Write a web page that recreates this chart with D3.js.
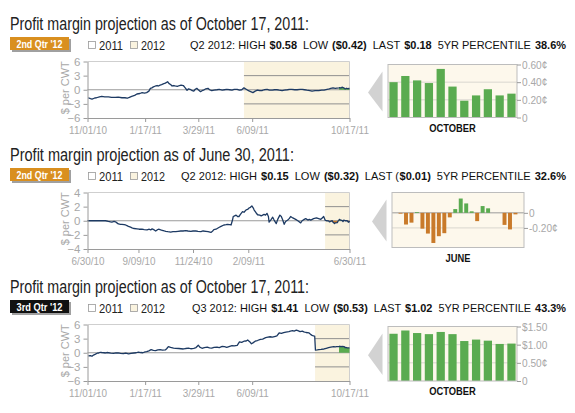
<!DOCTYPE html>
<html><head><meta charset="utf-8">
<script src="https://cdn.jsdelivr.net/npm/d3@7/dist/d3.min.js"></script>
<style>
body{margin:0;background:#fff;}
svg{display:block;font-family:"Liberation Sans",Arial,sans-serif;}
</style></head><body>
<svg id="c" width="575" height="413"></svg>
<script>
// ---------------- DATA ----------------
const titles = ["Profit margin projection as of October 17, 2011:",
                "Profit margin projection as of June 30, 2011:",
                "Profit margin projection as of October 17, 2011:"];
const badgeLabels = ["2nd Qtr '12", "2nd Qtr '12", "3rd Qtr '12"];
const legendLabels = ["2011", "2012"];
const stats1 = [["Q2 2012: HIGH",0],["$0.58",1],["LOW",0],["($0.42)",1],["LAST",0],["$0.18",1],["5YR PERCENTILE",0],["38.6%",1]];
const stats2 = [["Q2 2012: HIGH",0],["$0.15",1],["LOW",0],["($0.32)",1],["LAST (",0],["$0.01)",1],["5YR PERCENTILE",0],["32.6%",1]];
const stats3 = [["Q3 2012: HIGH",0],["$1.41",1],["LOW",0],["($0.53)",1],["LAST",0],["$1.02",1],["5YR PERCENTILE",0],["43.3%",1]];

const xRange1 = ["2010-11-01", "2011-10-17"];
const xRange2 = ["2010-06-30", "2011-06-30"];
const xTicks1 = ["2010-11-01", "2011-01-17", "2011-03-29", "2011-06-09", "2011-10-17"];
const xTicks2 = ["2010-06-30", "2010-09-09", "2010-11-24", "2011-02-09", "2011-06-30"];
const yTicks1 = [-6, -3, 0, 3, 6];
const yTicks2 = [-4, -2, 0, 2, 4];
const shadeStarts = ["2011-05-29", "2011-05-27", "2011-09-01"];

// [days since series start, $ per CWT]
const line1 = [[1,-1.7],[4,-1.9],[6,-2.0],[9,-1.8],[12,-1.7],[16,-1.5],[19,-1.4],[23,-1.5],[28,-1.5],[32,-1.6],[37,-1.6],[41,-1.55],[46,-1.7],[50,-1.7],[53,-1.8],[56,-1.6],[59,-1.4],[63,-1.2],[66,-0.9],[70,-0.8],[73,-0.6],[76,-0.7],[79,-0.6],[82,-0.3],[84,0.3],[86,0.4],[88,0.6],[91,0.8],[93,0.9],[95,0.8],[97,1.0],[99,1.1],[102,1.3],[104,1.4],[107,1.7],[109,1.3],[111,1.1],[113,0.8],[115,0.9],[117,0.8],[120,0.7],[123,0.9],[125,1.0],[128,0.9],[130,0.5],[133,-0.1],[135,0.2],[137,0.1],[140,-0.2],[142,-0.3],[144,0.1],[146,0.3],[148,0.0],[151,-0.4],[153,-0.2],[155,-0.1],[158,0.2],[161,0.3],[163,0.0],[166,-0.2],[169,-0.1],[173,0.0],[176,0.1],[180,-0.1],[183,0.0],[186,0.1],[190,0.0],[193,-0.1],[196,0.1],[200,0.1],[203,-0.1],[206,0.0],[209,0.4],[212,0.1],[215,-0.2],[218,-0.4],[221,-0.6],[224,-0.3],[227,-0.1],[230,-0.2],[233,-0.2],[236,0.0],[240,0.1],[243,-0.1],[247,-0.1],[250,0.0],[253,0.0],[256,-0.1],[260,-0.2],[263,-0.1],[267,0.0],[270,0.1],[273,0.1],[277,0.0],[280,0.0],[284,0.1],[287,0.1],[290,0.0],[293,-0.1],[297,-0.2],[300,-0.3],[304,-0.2],[309,-0.2],[313,-0.1],[316,-0.1],[320,0.1],[323,0.2],[325,0.3],[328,0.4],[331,0.3],[333,0.35]];
const line2 = [[0,0],[5,0],[10,0],[15,0],[20,0],[25,0],[29,-0.1],[32,-0.15],[34,-0.2],[37,-0.1],[39,-0.15],[41,-0.3],[43,-0.45],[46,-0.5],[48,-0.5],[51,-0.55],[53,-0.6],[55,-0.7],[57,-0.8],[60,-0.9],[62,-1.0],[65,-1.1],[69,-1.15],[72,-1.2],[76,-1.2],[79,-1.25],[83,-1.3],[86,-1.2],[88,-1.3],[90,-1.15],[93,-1.3],[95,-1.45],[97,-1.3],[99,-1.2],[102,-1.3],[104,-1.35],[107,-1.45],[109,-1.5],[112,-1.55],[116,-1.6],[119,-1.55],[123,-1.55],[126,-1.5],[130,-1.45],[133,-1.45],[137,-1.4],[140,-1.45],[144,-1.5],[147,-1.45],[151,-1.45],[154,-1.5],[158,-1.55],[161,-1.45],[165,-1.5],[168,-1.55],[172,-1.65],[174,-1.5],[176,-1.25],[179,-1.2],[183,-0.95],[186,-0.8],[190,-0.6],[193,-0.55],[195,-0.5],[198,-0.55],[200,-0.6],[202,0.1],[203,0.6],[205,0.7],[207,0.8],[209,0.6],[211,0.6],[213,0.9],[216,1.3],[218,1.2],[221,1.55],[223,1.6],[225,1.8],[227,1.9],[229,2.1],[231,1.8],[232,1.55],[235,1.1],[237,0.85],[240,0.8],[242,0.7],[244,0.8],[246,0.9],[248,0.8],[250,1.05],[252,0.6],[253,-0.2],[256,0.2],[258,0.5],[260,0.1],[263,-0.4],[265,0.2],[268,0.8],[270,0.6],[272,0.1],[274,-0.5],[276,-0.1],[279,0.1],[281,0.3],[283,0.6],[286,0.4],[290,0.2],[293,0.0],[297,-0.3],[299,0.0],[302,0.2],[304,0.3],[307,0.1],[309,0.2],[311,0.1],[315,0.3],[319,0.4],[322,0.3],[325,0.2],[327,0.4],[329,0.6],[331,0.1],[333,0.0]];
const line3 = [[1,-0.65],[4,-0.6],[6,-0.75],[8,-0.5],[10,-0.35],[13,-0.1],[15,-0.05],[17,0.1],[19,0.05],[22,0.0],[24,-0.05],[26,0.05],[28,0.0],[31,-0.1],[35,-0.15],[38,-0.05],[41,-0.05],[44,-0.15],[48,-0.2],[51,-0.1],[55,-0.25],[58,-0.15],[62,-0.05],[65,0.0],[68,0.15],[71,0.05],[74,0.0],[77,0.2],[79,0.25],[82,0.4],[85,0.65],[88,0.5],[91,0.45],[94,0.6],[97,0.65],[100,0.55],[104,0.6],[106,0.9],[108,1.3],[111,1.15],[115,1.0],[118,0.95],[122,0.9],[125,0.85],[128,0.8],[131,0.9],[135,1.0],[138,0.85],[142,0.95],[145,1.1],[148,1.6],[150,1.2],[153,0.95],[156,1.1],[160,1.2],[163,1.05],[166,1.0],[169,1.15],[173,1.2],[176,1.1],[180,1.35],[183,1.3],[186,1.15],[189,1.3],[193,1.5],[196,1.45],[200,1.55],[203,2.3],[206,2.2],[209,2.45],[212,2.5],[214,2.7],[217,2.3],[219,1.9],[221,2.1],[224,2.45],[227,2.6],[231,2.85],[234,2.9],[238,3.2],[241,3.3],[244,3.4],[247,3.3],[251,3.5],[253,3.6],[256,4.2],[259,4.1],[262,4.25],[265,4.4],[269,4.5],[271,4.6],[274,4.7],[276,4.6],[279,4.8],[281,4.7],[284,4.5],[287,4.6],[289,4.45],[292,4.3],[296,4.2],[298,3.9],[300,3.7],[302,3.6],[303.5,3.55],[304.5,0.55],[307,0.6],[309,0.65],[312,0.7],[316,0.8],[319,0.95],[322,1.1],[325,1.2],[329,1.3],[331,1.25],[333,1.3]];

const monthLabels = ["OCTOBER", "JUNE", "OCTOBER"];
const barMonths = ["2011-10", "2011-06", "2011-10"];
const barDays1 = [3,4,5,6,7,10,11,12,13,14,17];
const barVals1 = [0.40,0.47,0.42,0.39,0.55,0.35,0.19,0.25,0.32,0.25,0.27];
const barDays2 = [1,2,3,6,7,8,9,10,13,14,15,16,17,20,21,22,23,24,27,28,29,30];
const barVals2 = [-0.01,-0.155,-0.13,0.01,-0.21,-0.275,-0.40,-0.31,-0.27,-0.06,0.05,0.19,0.125,0.02,-0.11,0.09,0.06,0,0,-0.16,-0.22,-0.02];
const barDays3 = [3,4,5,6,7,10,11,12,13,14,17];
const barVals3 = [1.30,1.39,1.32,1.29,1.35,1.29,1.10,1.14,1.11,1.02,1.03];
const barDomain1 = [0, 0.6], barDomain2 = [-0.46, 0.27], barDomain3 = [0, 1.5];
const barTicks1 = [0, 0.2, 0.4, 0.6], barTickLabels1 = ["0", "0.20¢", "0.40¢", "0.60¢"];
const barTicks2 = [-0.2, 0], barTickLabels2 = ["-0.20¢", "0"];
const barTicks3 = [0, 0.5, 1.0, 1.5], barTickLabels3 = ["0", "0.50¢", "$1.00", "$1.50"];
const yAxisLabel = "$ per CWT";

// ---------------- ASSEMBLY ----------------
const parse = d3.timeParse("%Y-%m-%d");
const parseM = d3.timeParse("%Y-%m");
const fmt = d3.timeFormat("%-m/%d/%y");

const panels = [
  {title:titles[0], badge:badgeLabels[0], stats:stats1, xr:xRange1, xt:xTicks1, yt:yTicks1, shade:shadeStarts[0], line:line1, month:barMonths[0], bd:barDays1, bv:barVals1, bdom:barDomain1, bt:barTicks1, btl:barTickLabels1, ml:monthLabels[0]},
  {title:titles[1], badge:badgeLabels[1], stats:stats2, xr:xRange2, xt:xTicks2, yt:yTicks2, shade:shadeStarts[1], line:line2, month:barMonths[1], bd:barDays2, bv:barVals2, bdom:barDomain2, bt:barTicks2, btl:barTickLabels2, ml:monthLabels[1]},
  {title:titles[2], badge:badgeLabels[2], stats:stats3, xr:xRange1, xt:xTicks1, yt:yTicks1, shade:shadeStarts[2], line:line3, month:barMonths[2], bd:barDays3, bv:barVals3, bdom:barDomain3, bt:barTicks3, btl:barTickLabels3, ml:monthLabels[2]}
];
const styles = [
  {T:0,   badgeFill:"#d98f1f", titleW:299, statX:190, bx0:388, bx1:517, btop:64.5, bbot:117.5, pi:0.3, po:0.12},
  {T:131, badgeFill:"#d98f1f", titleW:284, statX:181, bx0:392, bx1:524, btop:61.5, bbot:116.5, pi:0.28, po:1.2},
  {T:263, badgeFill:"#111111", titleW:299, statX:192, bx0:388, bx1:517, btop:63.5, bbot:118, pi:0.3, po:0.12}
];
const L = {lx0:87.5, lx1:349.5, ltop:61.5, lbot:118};
const C = {line:"#1d3a63", shade:"#faf3df", barBg:"#fdf8ec", green:"#5aab50", orange:"#c97a2a",
           axis:"#9a9a9a", label:"#a8a8a8", grid:"#8f8f8f", frame:"#cfcfcf", text:"#222"};

const svg = d3.select("#c");

function condense(sel, k) {
  sel.each(function () {
    const w = this.getComputedTextLength();
    d3.select(this).attr("textLength", w * k).attr("lengthAdjust", "spacingAndGlyphs");
  });
}

panels.forEach((p, i) => {
  const s = styles[i];
  const g = svg.append("g").attr("transform", `translate(0,${s.T})`);

  // Title
  g.append("text").attr("x", 10).attr("y", 29.5).attr("font-size", 17.5).attr("fill", C.text)
    .attr("textLength", s.titleW).attr("lengthAdjust", "spacingAndGlyphs").text(p.title);

  // Badge
  g.append("rect").attr("x", 12).attr("y", 39).attr("width", 59).attr("height", 13).attr("fill", "#a0a0a0");
  g.append("rect").attr("x", 10).attr("y", 37).attr("width", 59).attr("height", 13).attr("fill", s.badgeFill);
  g.append("text").attr("x", 39.5).attr("y", 47.5).attr("text-anchor", "middle").attr("font-size", 11)
    .attr("font-weight", "bold").attr("fill", "#fff").attr("textLength", 46).attr("lengthAdjust", "spacingAndGlyphs").text(p.badge);

  // Legend
  const legFills = ["#ffffff", C.shade];
  legendLabels.forEach((lab, j) => {
    const lx = 88 + j * 42;
    g.append("rect").attr("x", lx + 0.5).attr("y", 41.5).attr("width", 7).attr("height", 7)
      .attr("fill", legFills[j]).attr("stroke", "#9a9a9a").attr("stroke-width", 0.8);
    g.append("text").attr("x", lx + 11).attr("y", 49.5).attr("font-size", 13.5).attr("fill", C.text)
      .attr("textLength", 24).attr("lengthAdjust", "spacingAndGlyphs").text(lab);
  });

  // Stats: separate word groups, condensed to fit the available width
  const gap = 6, targetW = 566 - s.statX;
  const segs = p.stats.map(([t, b]) => g.append("text").attr("y", 49.3).attr("font-size", 11.5)
    .attr("fill", "#111").attr("font-weight", b ? "bold" : "normal").text(t));
  const widths = segs.map(t => t.node().getComputedTextLength());
  const gaps = p.stats.map(([t], k) => k === 0 ? 0 : (p.stats[k - 1][0].endsWith("(") ? 0.5 : (p.stats[k][1] ? 4 : gap)));
  const k = (targetW - d3.sum(gaps)) / d3.sum(widths);
  let cx = s.statX;
  segs.forEach((t, j) => {
    cx += gaps[j];
    t.attr("x", cx).attr("textLength", widths[j] * k).attr("lengthAdjust", "spacingAndGlyphs");
    cx += widths[j] * k;
  });

  // ---------- Line chart ----------
  const start = parse(p.xr[0]);
  const x = d3.scaleTime().domain([start, parse(p.xr[1])]).range([L.lx0, L.lx1]);
  const ymax = d3.max(p.yt), ymin = d3.min(p.yt);
  const y = d3.scaleLinear().domain([ymin, ymax]).range([L.lbot, L.ltop]);

  const sx = x(parse(p.shade));
  g.append("rect").attr("x", sx).attr("y", y(ymax)).attr("width", L.lx1 - sx).attr("height", y(ymin) - y(ymax)).attr("fill", C.shade);
  p.yt.filter(v => v !== 0 && v !== ymax && v !== ymin).forEach(v => {
    g.append("line").attr("x1", sx).attr("x2", L.lx1).attr("y1", y(v)).attr("y2", y(v))
      .attr("stroke", C.grid).attr("stroke-width", 1);
  });
  g.append("path").attr("d", `M${L.lx0},${y(ymax)}H${L.lx1}V${y(ymin)}`).attr("fill", "none")
    .attr("stroke", C.frame).attr("stroke-width", 1);
  g.append("line").attr("x1", L.lx0).attr("x2", L.lx1).attr("y1", y(0)).attr("y2", y(0))
    .attr("stroke", C.axis).attr("stroke-width", 1);

  const mStart = parseM(p.month);
  const basePts = p.line.map(([d, v]) => ({date: d3.timeHour.offset(start, d * 24), v}));
  const monthPts = p.bd.map((d, k) => ({date: new Date(mStart.getFullYear(), mStart.getMonth(), d), v: p.bv[k]}));
  const pts = basePts.concat(monthPts);

  const areaPos = d3.area().x(d => x(d.date)).y0(y(0)).y1(d => y(Math.max(0, d.v)));
  const areaNeg = d3.area().x(d => x(d.date)).y0(y(0)).y1(d => y(Math.min(0, d.v)));
  g.append("path").datum(monthPts).attr("d", areaPos).attr("fill", C.green);
  g.append("path").datum(monthPts).attr("d", areaNeg).attr("fill", C.orange);

  g.append("path").datum(pts).attr("d", d3.line().x(d => x(d.date)).y(d => y(d.v)))
    .attr("fill", "none").attr("stroke", C.line).attr("stroke-width", 1.3).attr("stroke-linejoin", "round");

  const ay = g.append("g").attr("transform", `translate(${L.lx0},0)`)
    .call(d3.axisLeft(y).tickValues(p.yt).tickSize(4).tickSizeOuter(0).tickPadding(3));
  ay.select(".domain").attr("stroke", C.axis);
  ay.selectAll(".tick line").attr("stroke", C.axis);
  ay.selectAll("text").attr("fill", C.label).attr("font-size", 11.5).attr("font-family", "Liberation Sans, Arial, sans-serif");

  const ax = g.append("g").attr("transform", `translate(0,${L.lbot})`)
    .call(d3.axisBottom(x).tickValues(p.xt.map(parse)).tickFormat(fmt).tickSize(4).tickSizeOuter(0).tickPadding(4));
  ax.select(".domain").attr("stroke", C.axis);
  ax.selectAll(".tick line").attr("stroke", C.axis);
  ax.selectAll("text").attr("fill", C.label).attr("font-size", 11.5).attr("font-family", "Liberation Sans, Arial, sans-serif");
  condense(ax.selectAll("text"), 0.86);

  g.append("text").attr("transform", `translate(69,${(L.ltop + L.lbot) / 2 - 2}) rotate(-90)`)
    .attr("text-anchor", "middle").attr("font-size", 11).attr("fill", C.label).text(yAxisLabel);

  // ---------- Bar chart ----------
  const bx = d3.scaleBand().domain(d3.range(p.bv.length)).range([s.bx0, s.bx1]).paddingInner(s.pi).paddingOuter(s.po);
  const by = d3.scaleLinear().domain(p.bdom).range([s.bbot, s.btop]);

  const ay0 = s.btop + 7, ay1 = s.bbot - 6;
  g.append("path").attr("d", `M${s.bx0 - 20},${(ay0 + ay1) / 2 + 1}L${s.bx0 - 5.5},${ay0}L${s.bx0 - 5.5},${ay1}Z`).attr("fill", "#d2d2d2");

  g.append("rect").attr("x", s.bx0).attr("y", s.btop).attr("width", s.bx1 - s.bx0).attr("height", s.bbot - s.btop).attr("fill", C.barBg);
  p.bt.forEach(v => {
    if (v === p.bdom[0] || v === p.bdom[1]) return;
    g.append("line").attr("x1", s.bx0).attr("x2", s.bx1).attr("y1", by(v)).attr("y2", by(v))
      .attr("stroke", v === 0 ? C.axis : "#d9d6cf").attr("stroke-width", 1);
  });
  g.append("g").selectAll("rect").data(p.bv).join("rect")
    .attr("x", (d, k) => bx(k)).attr("width", bx.bandwidth())
    .attr("y", d => by(Math.max(0, d))).attr("height", d => Math.max(Math.abs(by(d) - by(0)), d === 0 ? 0 : 0.8))
    .attr("fill", d => d >= 0 ? C.green : C.orange);
  g.append("rect").attr("x", s.bx0).attr("y", s.btop).attr("width", s.bx1 - s.bx0).attr("height", s.bbot - s.btop)
    .attr("fill", "none").attr("stroke", "#bdbdbd").attr("stroke-width", 1);

  const ar = g.append("g").attr("transform", `translate(${s.bx1},0)`)
    .call(d3.axisRight(by).tickValues(p.bt).tickFormat((d, k) => p.btl[k]).tickSize(4).tickSizeOuter(0).tickPadding(1));
  ar.select(".domain").remove();
  ar.selectAll(".tick line").attr("stroke", C.axis);
  ar.selectAll("text").attr("fill", C.label).attr("font-size", 11.5).attr("font-family", "Liberation Sans, Arial, sans-serif");
  condense(ar.selectAll("text"), 0.88);

  const mt = g.append("text").attr("x", (s.bx0 + s.bx1) / 2).attr("y", s.bbot + 14).attr("text-anchor", "middle")
    .attr("font-size", 11).attr("font-weight", "bold").attr("fill", "#111").text(p.ml);
  condense(mt, 0.85);
});
</script>
</body></html>
